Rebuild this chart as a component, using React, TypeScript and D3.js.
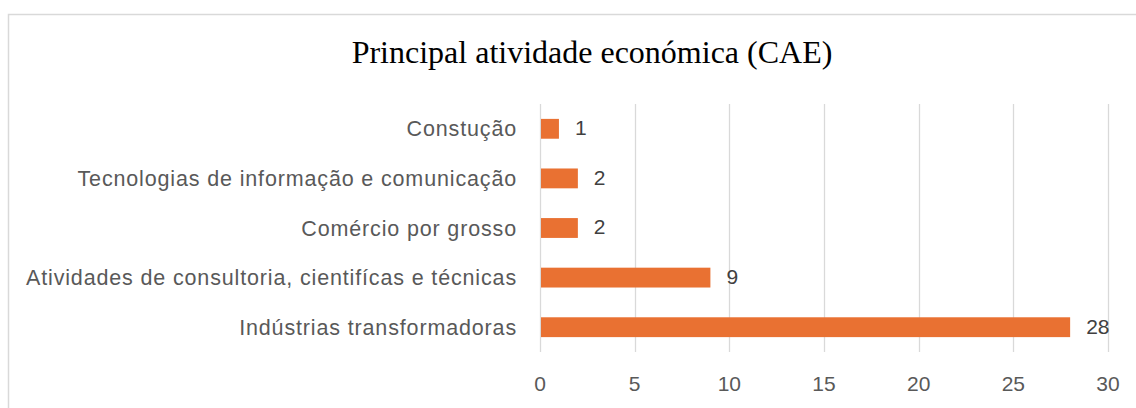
// @ts-nocheck
import React, { useEffect, useRef } from 'react';
import * as d3 from 'd3';

// dados (de cima para baixo)
const categorias = [
  'Constução',
  'Tecnologias de informação e comunicação',
  'Comércio por grosso',
  'Atividades de consultoria, cientifícas e técnicas',
  'Indústrias transformadoras',
];
const valores = [1, 2, 2, 9, 28];
const ticks = [0, 5, 10, 15, 20, 25, 30];
const titulo = 'Principal atividade económica (CAE)';

const W = 1136;
const H = 408;

const App: React.FC = () => {
  const ref = useRef<SVGSVGElement | null>(null);

  useEffect(() => {
    const svg = d3.select(ref.current);
    svg.selectAll('*').remove();

    const font = '"Liberation Sans", Arial, sans-serif';
    const cinza = '#595959';

    // moldura do gráfico
    svg.append('rect')
      .attr('x', 8.5).attr('y', 14.5)
      .attr('width', W + 20).attr('height', H + 20)
      .attr('fill', '#fff')
      .attr('stroke', '#d9d9d9')
      .attr('stroke-width', 1.5);

    // título
    svg.append('text')
      .attr('x', 592).attr('y', 63)
      .attr('text-anchor', 'middle')
      .style('font-family', '"Liberation Serif", "Times New Roman", serif')
      .style('font-size', '32px')
      .style('fill', '#000')
      .text(titulo);

    const xScale = d3.scaleLinear().domain([0, 30]).range([540, 1108]);
    const yScale = d3.scaleBand()
      .domain(categorias)
      .range([104, 352])
      .paddingInner(0.6)
      .paddingOuter(0.3);

    // linhas de grelha verticais
    svg.append('g')
      .selectAll('line')
      .data(ticks)
      .enter()
      .append('line')
      .attr('x1', (d) => Math.round(xScale(d)) + 0.5)
      .attr('x2', (d) => Math.round(xScale(d)) + 0.5)
      .attr('y1', 104)
      .attr('y2', 352)
      .attr('stroke', '#d9d9d9')
      .attr('stroke-width', 1.3);

    // eixo X (só texto)
    svg.append('g')
      .selectAll('text')
      .data(ticks)
      .enter()
      .append('text')
      .attr('x', (d) => xScale(d))
      .attr('y', 391)
      .attr('text-anchor', 'middle')
      .style('font-family', font)
      .style('font-size', '21px')
      .style('fill', cinza)
      .text((d) => d);

    // categorias
    svg.append('g')
      .selectAll('text')
      .data(categorias)
      .enter()
      .append('text')
      .attr('x', 517)
      .attr('y', (d) => yScale(d) + yScale.bandwidth() / 2)
      .attr('dy', '0.35em')
      .attr('text-anchor', 'end')
      .style('font-family', font)
      .style('font-size', '21.5px')
      .style('letter-spacing', '0.85px')
      .style('fill', cinza)
      .text((d) => d);

    // barras
    svg.append('g')
      .selectAll('rect')
      .data(valores)
      .enter()
      .append('rect')
      .attr('x', xScale(0) + 1)
      .attr('y', (d, i) => yScale(categorias[i]))
      .attr('width', (d) => xScale(d) - xScale(0) - 1)
      .attr('height', yScale.bandwidth())
      .attr('fill', '#E97132');

    // rótulos de valores
    svg.append('g')
      .selectAll('text')
      .data(valores)
      .enter()
      .append('text')
      .attr('x', (d) => xScale(d) + 16)
      .attr('y', (d, i) => yScale(categorias[i]) + yScale.bandwidth() / 2 - 1)
      .attr('dy', '0.35em')
      .style('font-family', font)
      .style('font-size', '21px')
      .style('fill', '#404040')
      .text((d) => d);
  }, []);

  return <svg ref={ref} width={W} height={H} style={{ display: 'block', position: 'absolute', left: 0, top: 0 }}></svg>;
};

export default App;
